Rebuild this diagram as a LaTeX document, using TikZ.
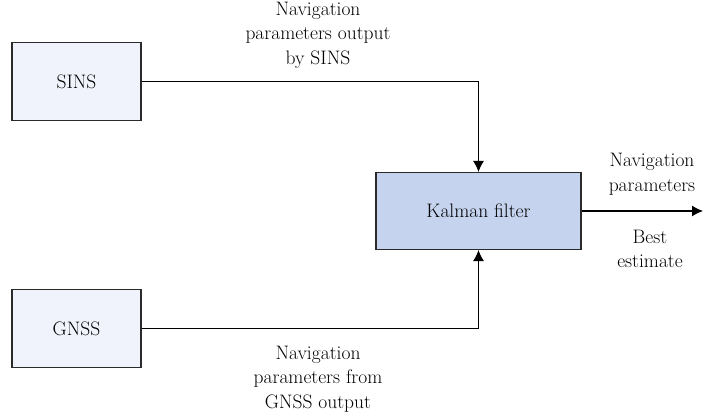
\documentclass[tikz,border=0pt]{standalone}
\usepackage{fontspec}
\usetikzlibrary{arrows.meta}
\definecolor{lightfill}{HTML}{F0F3FB}
\definecolor{kalfill}{HTML}{C5D3EE}
\definecolor{edge}{HTML}{2A2A2A}
\begin{document}
\begin{tikzpicture}[x=1pt,y=-1pt,
  block/.style={draw=edge,line width=1.1pt,fill=lightfill,inner sep=0pt,
    minimum width=129pt,minimum height=78pt,font=\fontsize{19.5}{24.5}\selectfont},
  kblock/.style={block,fill=kalfill,minimum width=205pt,minimum height=77pt},
  lbl/.style={align=center,inner sep=0pt,font=\fontsize{19.5}{24.5}\selectfont},
  link/.style={draw=black,line width=1.1pt},
  arr/.style={link,-{Latex[length=11pt,width=11pt]}}]
\useasboundingbox (0,0) rectangle (703,419);
\node[block] (sins) at (76.5,81.5) {SINS};
\node[block] (gnss) at (76.5,328.5) {GNSS};
\node[kblock] (kf) at (478.5,211) {Kalman filter};
\coordinate (out) at (703,211);
\draw[arr] (sins.east) -| (kf.north);
\draw[arr] (gnss.east) -| (kf.south);
\draw[arr] (kf.east) -- (out);
\node[lbl] (lsins) at (318,35) {Navigation\\parameters output\\by SINS};
\node[lbl] (lgnss) at (318,379) {Navigation\\parameters from\\GNSS output};
\node[lbl] (lout) at (652,174) {Navigation\\parameters};
\node[lbl] (lbest) at (650,249) {Best\\estimate};
\end{tikzpicture}
\end{document}
